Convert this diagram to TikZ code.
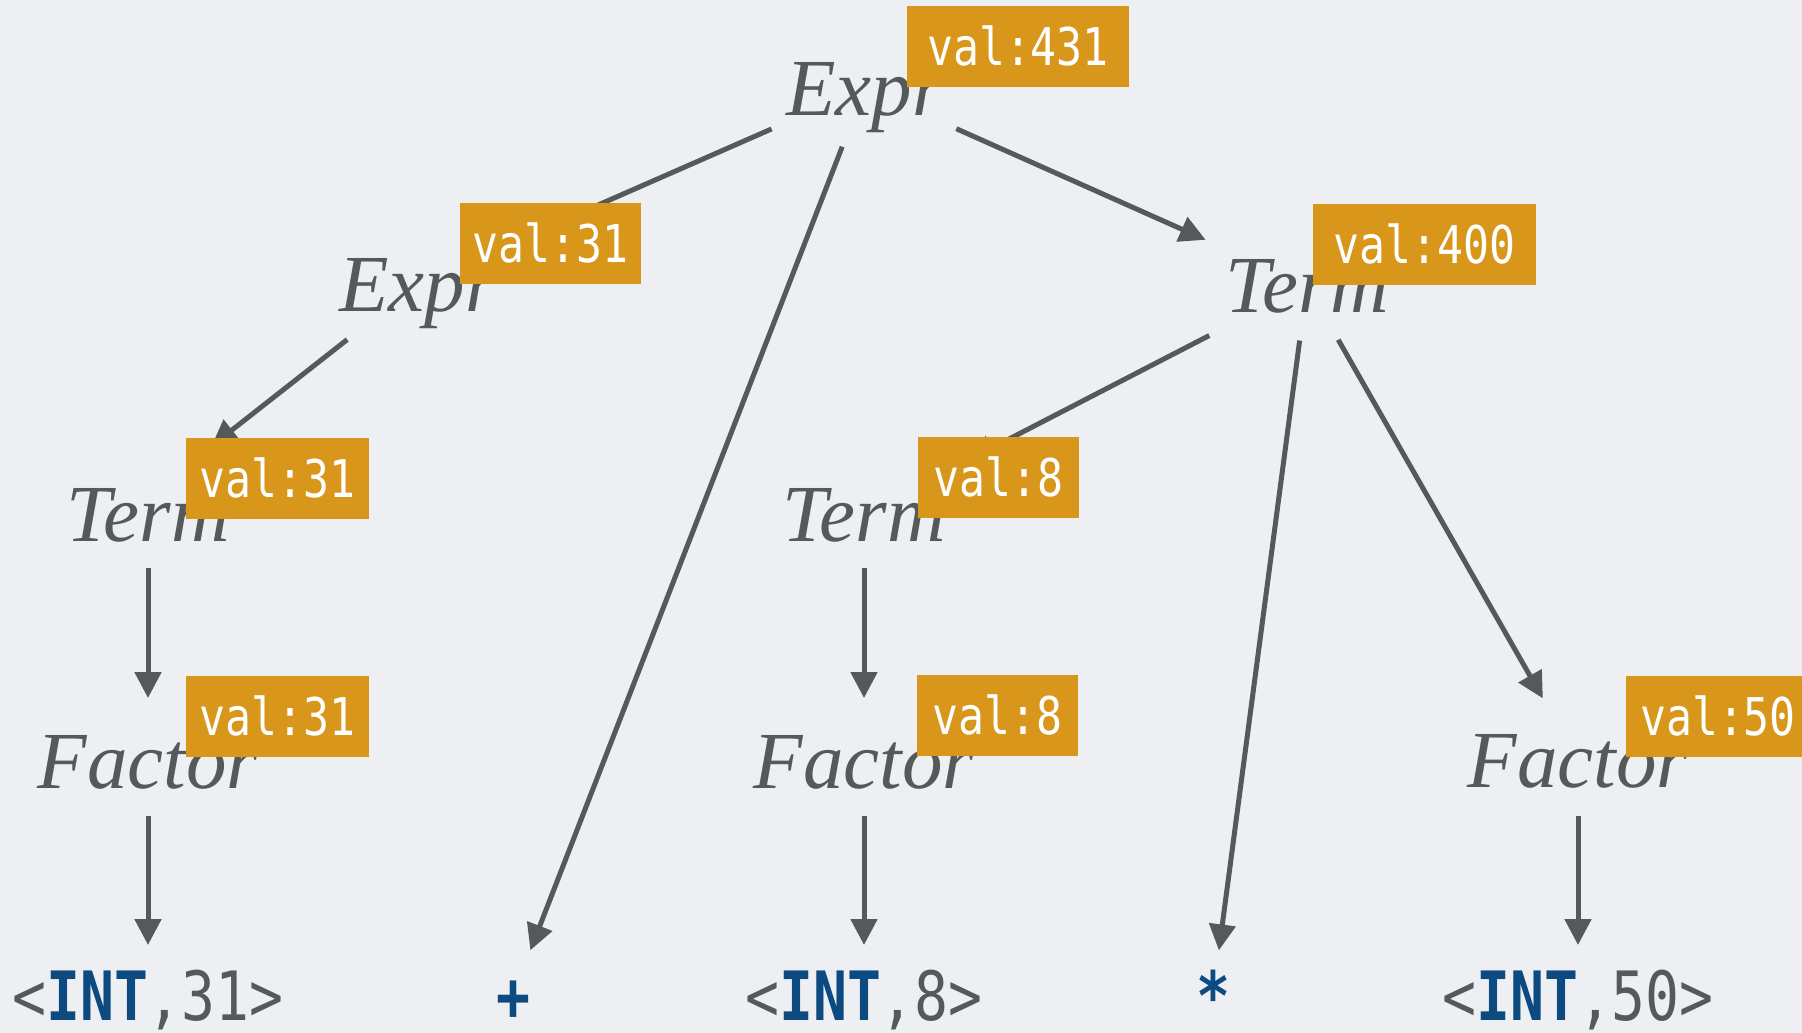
\documentclass[tikz,border=0pt]{standalone}
\usepackage{fontspec}
\setmainfont{Liberation Serif}
\newfontfamily\valfont[FakeStretch=0.83]{DejaVu Sans Mono}
\usetikzlibrary{arrows.meta}
\definecolor{bg}{RGB}{237,239,242}
\definecolor{ink}{RGB}{85,89,89}
\definecolor{tag}{RGB}{216,151,27}
\definecolor{tok}{RGB}{12,74,128}

\begin{document}
\begin{tikzpicture}[x=1pt,y=-1pt,
  sym/.style={font=\fontsize{81pt}{92pt}\selectfont\itshape, text=ink,
    inner sep=0pt, text height=54pt, text depth=0pt, anchor=base},
  leaf/.style={font=\valfont\fontsize{68pt}{80pt}\selectfont, text=ink,
    inner sep=0pt, text height=50pt, text depth=0pt, anchor=base},
  optok/.style={leaf, text=tok, font=\valfont\fontsize{68pt}{80pt}\selectfont\bfseries},
  tagbox/.style={fill=tag, text=white, font=\valfont\fontsize{52pt}{60pt}\selectfont,
    inner sep=0pt, minimum height=81pt, text height=38pt, text depth=0pt},
  edge/.style={draw=ink, line width=5pt, -{Triangle[length=26pt,width=26pt]}},
]
\useasboundingbox (0,0) rectangle (1802,1033);
\clip (0,0) rectangle (1802,1033);
\fill[bg] (0,0) rectangle (1802,1033);

% grammar symbols
\node[sym] (eT) at (865,115) {Expr};
\node[sym] (eL) at (418,311) {Expr};
\node[sym] (tR) at (1307,312) {Term};
\node[sym] (tL) at (148,541) {Term};
\node[sym] (tM) at (864,541) {Term};
\node[sym] (fL) at (148,788) {Factor};
\node[sym] (fM) at (864,788) {Factor};
\node[sym] (fR) at (1578,787) {Factor};

% tokens
\node[leaf] (iL) at (148,1020) {<\textbf{\textcolor{tok}{INT}},31>};
\node[optok] (plus) at (513,1020) {+};
\node[leaf] (iM) at (864,1020) {<\textbf{\textcolor{tok}{INT}},8>};
\node[optok] (star) at (1213,1020) {*};
\node[leaf] (iR) at (1578,1020) {<\textbf{\textcolor{tok}{INT}},50>};

% parse tree edges
\draw[edge, shorten <=102pt, shorten >=95pt] (eT.center) -- (eL.center);
\draw[edge, shorten <=63pt, shorten >=48pt] (eT.center) -- (plus.center);
\draw[edge, shorten <=100pt, shorten >=111pt] (eT.center) -- (tR.center);
\draw[edge, shorten <=90pt, shorten >=110pt] (eL.center) -- ([xshift=-23pt]tL.center);
\draw[edge, shorten <=110pt, shorten >=118pt] (tR.center) -- (tM.center);
\draw[edge, shorten <=56pt, shorten >=45pt] (tR.center) -- (star.center);
\draw[edge, shorten <=63pt, shorten >=71pt] (tR.center) -- (fR.center);
\draw[edge, shorten <=54pt, shorten >=63pt] (tL.center) -- (fL.center);
\draw[edge, shorten <=55pt, shorten >=50pt] (fL.center) -- (iL.center);
\draw[edge, shorten <=54pt, shorten >=63pt] (tM.center) -- (fM.center);
\draw[edge, shorten <=55pt, shorten >=50pt] (fM.center) -- (iM.center);
\draw[edge, shorten <=56pt, shorten >=50pt] (fR.center) -- (iR.center);

% attribute values
\node[tagbox, minimum width=222pt] (v431) at (1018,46.5) {val:431};
\node[tagbox, minimum width=181pt] (v31a) at (550.5,243.5) {val:31};
\node[tagbox, minimum width=223pt] (v400) at (1424.5,244) {val:400};
\node[tagbox, minimum width=183pt] (v31b) at (277.5,478) {val:31};
\node[tagbox, minimum width=161pt] (v8a) at (998.5,477.5) {val:8};
\node[tagbox, minimum width=183pt] (v31c) at (277.5,716) {val:31};
\node[tagbox, minimum width=161pt] (v8b) at (997.5,715.5) {val:8};
\node[tagbox, minimum width=184pt] (v50) at (1718,716) {val:50};
\end{tikzpicture}
\end{document}
